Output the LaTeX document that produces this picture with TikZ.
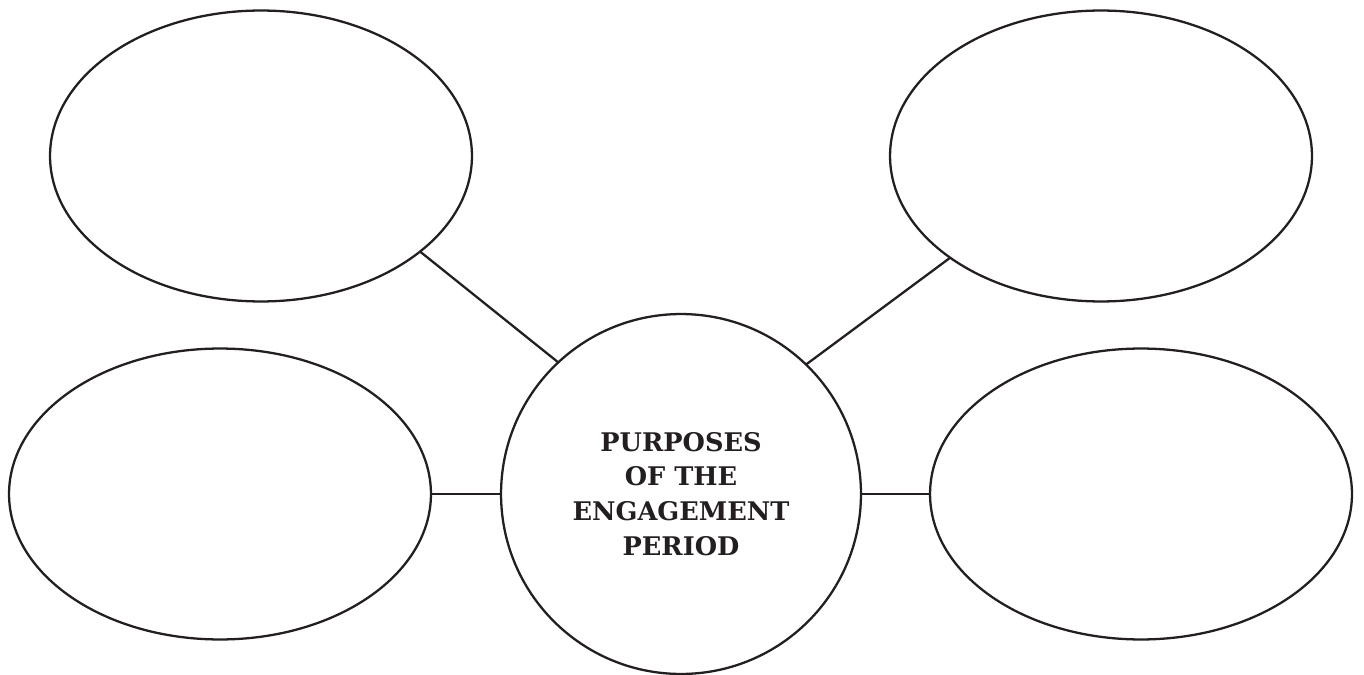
\documentclass[tikz,border=0pt]{standalone}
\usepackage{fontspec}
\newfontfamily\hubfont{DejaVu Serif}
\usetikzlibrary{shapes.geometric}
\definecolor{ink}{HTML}{231F20}
\tikzstyle{object}=[draw=ink, line width=1.3pt, inner sep=0pt, outer sep=0pt]
\tikzstyle{bubble object}=[object, ellipse, minimum width=8.44cm, minimum height=5.82cm]
\tikzstyle{hub object}=[object, circle, minimum size=7.2cm, align=center, text=ink,
  font=\hubfont\bfseries\fontsize{14.6}{19.8}\selectfont]
\tikzstyle{link}=[draw=ink, line width=1.3pt]

\begin{document}
\begin{tikzpicture}[x=0.02cm, y=-0.02cm]
  \useasboundingbox (0, 0) rectangle (1364, 675);
  \node[hub object] (hub) at (681, 494) {PURPOSES\\OF THE\\ENGAGEMENT\\PERIOD};
  \node[bubble object] (topleft) at (261, 156) {};
  \node[bubble object] (topright) at (1101, 156) {};
  \node[bubble object] (bottomleft) at (220, 494) {};
  \node[bubble object] (bottomright) at (1141, 494) {};
  \draw[link] (topleft.-31.4) -- (hub.133.2);
  \draw[link] (topright.-146.5) -- (hub.46.3);
  \draw[link] (bottomleft.east) -- (hub.west);
  \draw[link] (bottomright.west) -- (hub.east);
\end{tikzpicture}
\end{document}
